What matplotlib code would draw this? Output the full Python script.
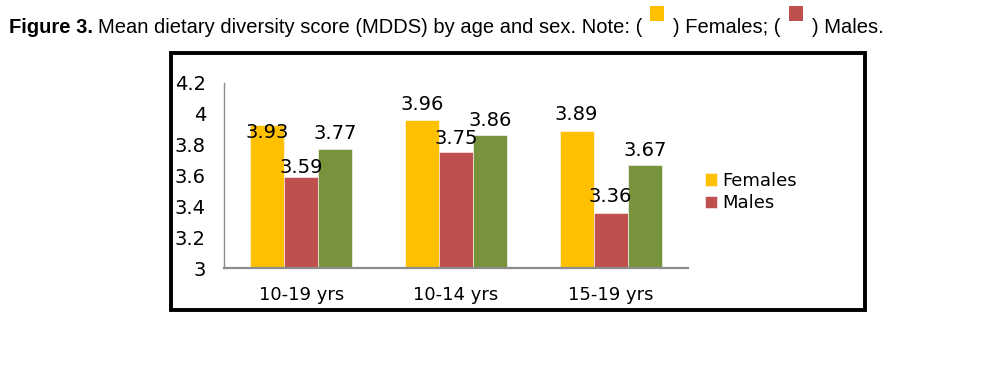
import matplotlib
matplotlib.use("Agg")
import matplotlib.pyplot as plt
from matplotlib.patches import Rectangle
import numpy as np

# ---- data ----
categories = ["10-19 yrs", "10-14 yrs", "15-19 yrs"]
females = [3.93, 3.96, 3.89]
males = [3.59, 3.75, 3.36]
total = [3.77, 3.86, 3.67]
series_names = ["Females", "Males", None]
yticks = [3.0, 3.2, 3.4, 3.6, 3.8, 4.0, 4.2]
ytick_labels = ["3", "3.2", "3.4", "3.6", "3.8", "4", "4.2"]

# label baseline offsets above bar top (points), per group / series (layout only)
label_offsets = [[-9.5, 3.0, 7.2], [7.2, 6.0, 6.5], [8.0, 7.2, 6.0]]

colors = ["#FFC000", "#C0504D", "#77933C"]

W, H = 988, 392
fig = plt.figure(figsize=(W / 100, H / 100), dpi=100)
fig.patch.set_facecolor("white")

# axes placement in pixels
ax_l, ax_r, ax_top, ax_bot = 224, 688, 83, 268
ax = fig.add_axes([ax_l / W, (H - ax_bot) / H, (ax_r - ax_l) / W, (ax_bot - ax_top) / H])

bw = 0.22
x = np.arange(len(categories))
bars = []
for j, vals in enumerate([females, males, total]):
    b = ax.bar(x + (j - 1) * bw, np.array(vals) - 3.0, bottom=3.0, width=bw,
               color=colors[j], edgecolor="white", linewidth=0.4, label=series_names[j])
    bars.append(b)
    for i, v in enumerate(vals):
        ax.annotate(f"{v:.2f}", xy=(x[i] + (j - 1) * bw, v), xytext=(0, label_offsets[i][j]),
                    textcoords="offset points", ha="center", va="baseline", fontsize=14,
                    color="black", annotation_clip=False)

ax.set_xlim(-0.5, 2.5)
ax.set_ylim(3.0, 4.2)
ax.set_yticks(yticks)
ax.set_yticklabels(ytick_labels, fontsize=14)
ax.set_xticks(x)
ax.set_xticklabels(categories, fontsize=13)
ax.tick_params(axis="y", length=0, pad=13)
ax.tick_params(axis="x", length=0, pad=13)
for s in ["top", "right"]:
    ax.spines[s].set_visible(False)
ax.spines["left"].set_color("#8c8c8c")
ax.spines["bottom"].set_color("#8c8c8c")
ax.spines["left"].set_linewidth(1.0)
ax.spines["bottom"].set_linewidth(1.6)

leg = fig.legend(handles=[bars[0], bars[1]], labels=["Females", "Males"],
                 loc="center left", bbox_to_anchor=(705 / W, (H - 192) / H),
                 frameon=False, fontsize=13, handlelength=0.67, handleheight=0.67,
                 handletextpad=0.3, labelspacing=0.25, borderpad=0, borderaxespad=0)

# outer thick box
bx0, by0, bx1, by1 = 171, 53, 865, 310
fig.add_artist(Rectangle((bx0 / W, (H - by1) / H), (bx1 - bx0) / W, (by1 - by0) / H,
                         transform=fig.transFigure, fill=False, edgecolor="black",
                         linewidth=2.8))

# ---- title line with coloured squares ----
renderer = fig.canvas.get_renderer()
base_y = (H - 33) / H
tfont = "Liberation Sans"
tsize = 14.5
cur = 9.0

def put_text(s, weight="normal"):
    global cur
    t = fig.text(cur / W, base_y, s, fontsize=tsize, fontweight=weight, family=tfont,
                 ha="left", va="baseline", color="black")
    bb = t.get_window_extent(renderer)
    cur = bb.x1

def put_square(c):
    global cur
    fig.add_artist(Rectangle((cur / W, (H - 21) / H), 14 / W, 15 / H,
                             transform=fig.transFigure, facecolor=c, edgecolor="none"))
    cur = cur + 14

put_text("Figure 3.", "bold")
cur += 5
put_text("Mean dietary diversity score (MDDS) by age and sex. Note: (")
cur += 8
put_square(colors[0])
cur += 9
put_text(") Females; (")
cur += 8
put_square(colors[1])
cur += 9
put_text(") Males.")

fig.savefig("out.png", dpi=100, facecolor="white")
